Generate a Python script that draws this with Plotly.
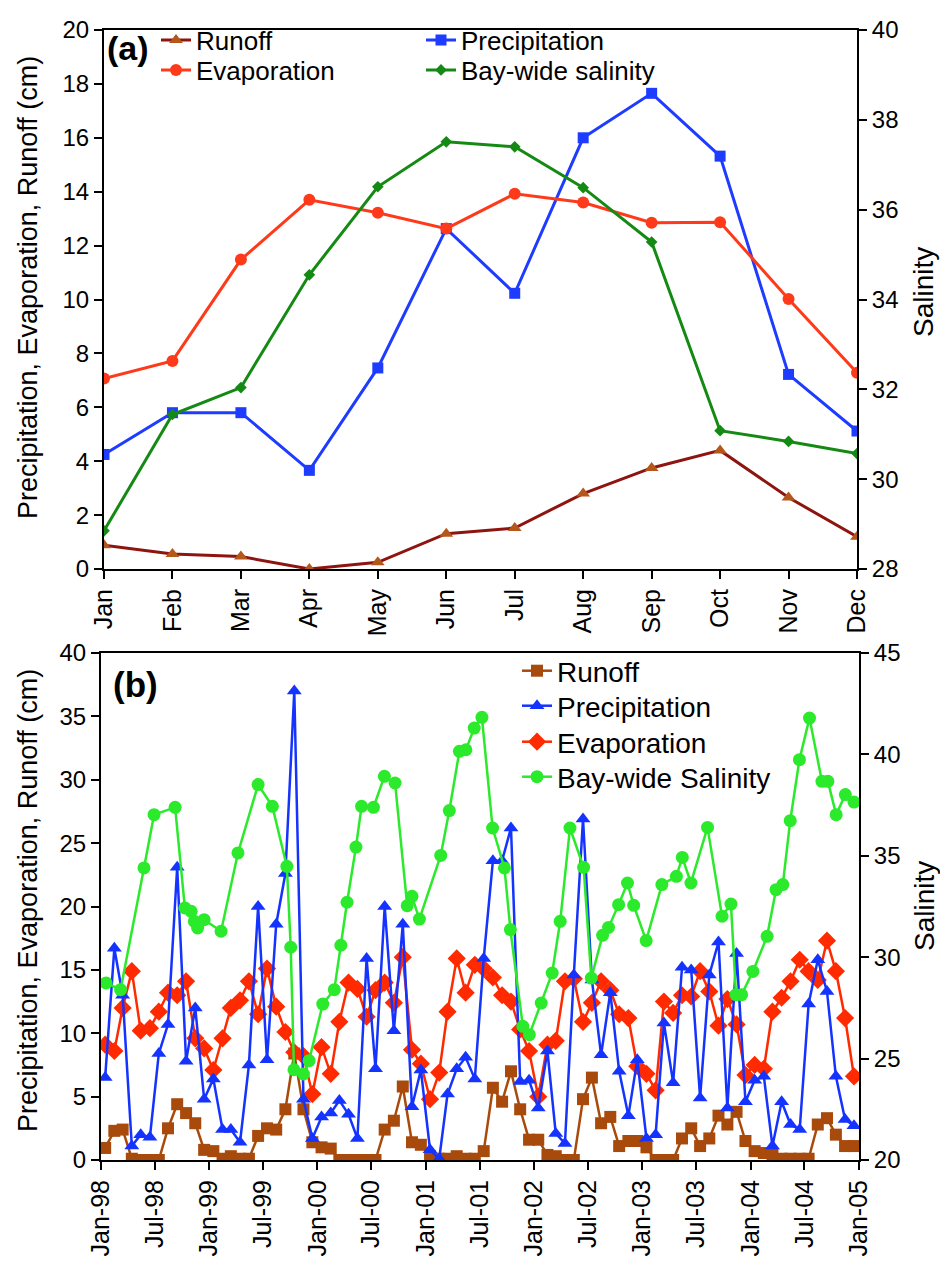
import plotly.graph_objects as go
import pandas as pd

# ---------------- Panel (a): monthly climatology ----------------
months = ["Jan", "Feb", "Mar", "Apr", "May", "Jun", "Jul", "Aug", "Sep", "Oct", "Nov", "Dec"]
a_runoff = [0.88, 0.56, 0.46, 0.0, 0.25, 1.31, 1.52, 2.8, 3.75, 4.4, 2.65, 1.2]
a_evap = [7.07, 7.72, 11.48, 13.7, 13.22, 12.63, 13.92, 13.6, 12.85, 12.87, 10.02, 7.28]
a_precip = [4.25, 5.8, 5.8, 3.66, 7.46, 12.63, 10.23, 16.0, 17.65, 15.32, 7.22, 5.12]
a_salinity = [28.85, 31.44, 32.04, 34.55, 36.51, 37.51, 37.4, 36.49, 35.28, 31.08, 30.84, 30.57]

# ---------------- Panel (b): monthly series 1998-2004 ----------------
b_runoff = [0.95, 2.3, 2.4, 0.1, 0.0, 0.0, 0.0, 2.5, 4.4, 3.7, 2.9, 0.8,
            0.7, 0.1, 0.3, 0.1, 0.1, 1.9, 2.5, 2.4, 4.0, 8.4, 4.0, 1.4,
            1.0, 0.9, 0.0, 0.0, 0.0, 0.0, 0.0, 2.4, 3.1, 5.8, 1.4, 1.2,
            0.3, 0.1, 0.1, 0.3, 0.1, 0.1, 0.7, 5.7, 4.6, 7.0, 4.0, 1.6,
            1.6, 0.4, 0.3, 0.0, 0.0, 4.8, 6.5, 2.9, 3.4, 1.1, 1.5, 1.5,
            1.0, 0.0, 0.0, 0.0, 1.7, 2.5, 1.1, 1.7, 3.5, 2.8, 3.8, 1.5,
            0.7, 0.55, 0.4, 0.1, 0.1, 0.1, 0.1, 2.8, 3.3, 2.0, 1.1, 1.1]
b_precip = [6.5, 16.7, 13.0, 1.1, 2.0, 1.8, 8.4, 10.7, 23.1, 7.8, 12.0, 4.8,
            6.4, 2.4, 2.4, 1.4, 7.5, 20.0, 7.9, 18.6, 22.6, 37.0, 4.8, 1.7,
            3.4, 3.7, 4.7, 3.6, 1.7, 15.9, 7.2, 20.0, 10.2, 18.6, 4.2, 7.1,
            0.8, 0.1, 5.2, 7.2, 8.1, 6.4, 15.9, 23.6, 23.6, 26.2, 6.2, 6.3,
            4.1, 8.6, 2.1, 1.3, 14.6, 26.9, 14.2, 8.3, 13.2, 7.0, 3.5, 7.9,
            1.7, 2.0, 10.8, 6.1, 15.2, 15.0, 4.9, 14.6, 17.2, 4.1, 16.3, 4.6,
            6.3, 6.6, 1.1, 4.6, 2.8, 2.4, 12.3, 15.8, 13.3, 6.6, 3.2, 2.7]
b_evap = [9.1, 8.6, 12.0, 14.9, 10.2, 10.4, 11.7, 13.2, 13.0, 14.1, 9.6, 8.8,
          7.1, 9.6, 12.0, 12.6, 14.1, 11.5, 15.1, 12.1, 10.1, 8.5, 8.2, 5.2,
          8.9, 6.8, 10.9, 14.0, 13.5, 11.3, 13.4, 14.0, 12.4, 16.0, 8.7, 7.6,
          4.8, 6.9, 11.7, 15.9, 13.2, 15.4, 15.1, 14.4, 13.0, 12.5, 10.3, 8.6,
          5.0, 9.1, 9.4, 14.1, 14.3, 10.9, 12.4, 14.1, 13.4, 11.5, 11.2, 7.4,
          6.8, 5.5, 12.5, 11.6, 13.0, 12.9, 14.9, 13.3, 10.6, 12.7, 10.7, 6.7,
          7.5, 7.2, 11.7, 12.8, 14.1, 15.8, 14.9, 14.2, 17.3, 14.9, 11.2, 6.6]
b_months = pd.date_range("1998-01-01", periods=84, freq="MS") + pd.Timedelta(days=14)

sal_dates = ["1998-01-18", "1998-03-08", "1998-05-26", "1998-06-29", "1998-09-08", "1998-10-11",
             "1998-11-01", "1998-11-12", "1998-11-23", "1998-12-15", "1999-02-10", "1999-04-08",
             "1999-06-15", "1999-08-02", "1999-09-20", "1999-10-03", "1999-10-14", "1999-11-15",
             "1999-12-04", "2000-01-19", "2000-02-27", "2000-03-20", "2000-04-10", "2000-05-10",
             "2000-05-29", "2000-07-08", "2000-08-14", "2000-09-19", "2000-10-30", "2000-11-15",
             "2000-12-10", "2001-02-20", "2001-03-21", "2001-04-24", "2001-05-16", "2001-06-13",
             "2001-07-09", "2001-08-14", "2001-09-23", "2001-10-13", "2001-11-24", "2001-12-16",
             "2002-01-25", "2002-03-03", "2002-03-30", "2002-05-02", "2002-06-17", "2002-07-13",
             "2002-08-20", "2002-09-09", "2002-10-13", "2002-11-12", "2002-12-03", "2003-01-14",
             "2003-03-08", "2003-04-26", "2003-05-16", "2003-06-14", "2003-08-09", "2003-09-27",
             "2003-10-27", "2003-11-13", "2003-12-02", "2004-01-09", "2004-02-26", "2004-03-27",
             "2004-04-19", "2004-05-14", "2004-06-14", "2004-07-18", "2004-08-29", "2004-09-18",
             "2004-10-16", "2004-11-16", "2004-12-15"]
sal_values = [28.73, 28.40, 34.40, 37.03, 37.39, 32.43,
              32.26, 31.77, 31.44, 31.85, 31.28, 35.14,
              38.51, 37.44, 34.48, 30.49, 24.45, 24.24,
              24.90, 27.69, 28.40, 30.59, 32.71, 35.43,
              37.44, 37.39, 38.92, 38.59, 32.54, 33.00,
              31.88, 35.02, 37.23, 40.15, 40.23, 41.30,
              41.83, 36.37, 34.40, 31.36, 26.59, 26.18,
              27.74, 29.22, 31.77, 36.37, 34.43, 28.97,
              31.08, 31.47, 32.59, 33.66, 32.56, 30.82,
              33.58, 33.99, 34.92, 33.66, 36.40, 32.02,
              32.62, 28.15, 28.15, 29.30, 31.03, 33.33,
              33.58, 36.73, 39.74, 41.79, 38.67, 38.67,
              37.03, 38.02, 37.65]

b_tickvals = ["1998-01-01", "1998-07-01", "1999-01-01", "1999-07-01", "2000-01-01", "2000-07-01",
              "2001-01-01", "2001-07-01", "2002-01-01", "2002-07-01", "2003-01-01", "2003-07-01",
              "2004-01-01", "2004-07-01", "2005-01-01"]
b_ticktext = ["Jan-98", "Jul-98", "Jan-99", "Jul-99", "Jan-00", "Jul-00", "Jan-01", "Jul-01",
              "Jan-02", "Jul-02", "Jan-03", "Jul-03", "Jan-04", "Jul-04", "Jan-05"]

W, H = 948, 1268
FONT = "Liberation Sans, Arial, sans-serif"

def px_x(x):
    return x / W

def px_y(y):
    return 1 - y / H

fig = go.Figure()
xa = list(range(12))

# Panel (a) traces
fig.add_trace(go.Scatter(x=xa, y=a_runoff, name="Runoff", mode="lines+markers", showlegend=True,
                         line=dict(color="#8E1410", width=3),
                         marker=dict(symbol="triangle-up", size=12, color="#B5561A"),
                         xaxis="x", yaxis="y", legend="legend"))
fig.add_trace(go.Scatter(x=xa, y=a_precip, name="Precipitation", mode="lines+markers", showlegend=True,
                         line=dict(color="#1E3CFF", width=3),
                         marker=dict(symbol="square", size=11, color="#1E3CFF"),
                         xaxis="x", yaxis="y", legend="legend2"))
fig.add_trace(go.Scatter(x=xa, y=a_evap, name="Evaporation", mode="lines+markers", showlegend=True,
                         line=dict(color="#FF3A1A", width=3),
                         marker=dict(symbol="circle", size=12, color="#FF3A1A"),
                         xaxis="x", yaxis="y", legend="legend3"))
fig.add_trace(go.Scatter(x=xa, y=a_salinity, name="Bay-wide salinity", mode="lines+markers", showlegend=True,
                         line=dict(color="#148A14", width=3),
                         marker=dict(symbol="diamond", size=9, color="#148A14"),
                         xaxis="x", yaxis="y2", legend="legend4"))

# Panel (b) traces
fig.add_trace(go.Scatter(x=b_months, y=b_runoff, name="Runoff", mode="lines+markers", showlegend=True,
                         line=dict(color="#A84A0C", width=2.5),
                         marker=dict(symbol="square", size=12, color="#A84A0C"),
                         xaxis="x2", yaxis="y3", legend="legend5"))
fig.add_trace(go.Scatter(x=b_months, y=b_evap, name="Evaporation", mode="lines+markers", showlegend=True,
                         line=dict(color="#FF2A00", width=2.5),
                         marker=dict(symbol="diamond", size=14, color="#FF2A00"),
                         xaxis="x2", yaxis="y3", legend="legend7"))
fig.add_trace(go.Scatter(x=b_months, y=b_precip, name="Precipitation", mode="lines+markers", showlegend=True,
                         line=dict(color="#1433FF", width=2.5),
                         marker=dict(symbol="triangle-up", size=13, color="#1433FF"),
                         xaxis="x2", yaxis="y3", legend="legend6"))
fig.add_trace(go.Scatter(x=pd.to_datetime(sal_dates), y=sal_values, name="Bay-wide Salinity",
                         mode="lines+markers", showlegend=True,
                         line=dict(color="#2BEA2B", width=2.5),
                         marker=dict(symbol="circle", size=13, color="#2BEA2B"),
                         xaxis="x2", yaxis="y4", legend="legend8"))

axis_common = dict(showline=True, linecolor="black", linewidth=2, ticks="outside",
                   ticklen=8, tickwidth=2, tickcolor="black", showgrid=False, zeroline=False,
                   automargin=False, tickfont=dict(family=FONT, size=24, color="black"))

xa_dom = [px_x(96), px_x(849)]
xb_dom = [px_x(93), px_x(851)]
ya_dom = [px_y(561), px_y(22)]
yb_dom = [px_y(1152), px_y(645)]

layout = dict(
    width=W, height=H,
    margin=dict(l=0, r=0, t=0, b=0),
    paper_bgcolor="white", plot_bgcolor="white",
    showlegend=True,
    font=dict(family=FONT, color="black"),
    xaxis=dict(axis_common, domain=xa_dom, anchor="y", range=[0, 11],
               tickvals=xa, ticktext=months, tickangle=-90, mirror=True,
               tickfont=dict(family=FONT, size=25, color="black")),
    yaxis=dict(axis_common, domain=ya_dom, anchor="x", range=[0, 20], dtick=2),
    yaxis2=dict(axis_common, overlaying="y", anchor="x", side="right", range=[28, 40], dtick=2),
    xaxis2=dict(axis_common, domain=xb_dom, anchor="y3", type="date",
                range=["1998-01-01", "2005-01-01"], tickvals=b_tickvals, ticktext=b_ticktext,
                tickangle=-90, mirror=True,
                tickfont=dict(family=FONT, size=25, color="black")),
    yaxis3=dict(axis_common, domain=yb_dom, anchor="x2", range=[0, 40], dtick=5),
    yaxis4=dict(axis_common, overlaying="y3", anchor="x2", side="right", range=[20, 45], dtick=5),
)

def leg(x, y, size):
    return dict(x=px_x(x), y=px_y(y), xanchor="left", yanchor="middle",
                bgcolor="rgba(0,0,0,0)", borderwidth=0,
                font=dict(family=FONT, size=size, color="black"),
                itemwidth=30, tracegroupgap=0)

layout["legend"] = leg(148, 32, 26)
layout["legend2"] = leg(413, 32, 26)
layout["legend3"] = leg(148, 62, 26)
layout["legend4"] = leg(413, 62, 26)
layout["legend5"] = leg(509, 663, 28)
layout["legend6"] = leg(509, 698, 28)
layout["legend7"] = leg(509, 734, 28)
layout["legend8"] = leg(509, 769, 28)

def ann(text, x, y, size, bold=False, angle=0):
    return dict(text=("<b>%s</b>" % text) if bold else text, x=px_x(x), y=px_y(y),
                xref="paper", yref="paper", xanchor="center", yanchor="middle",
                showarrow=False, textangle=angle,
                font=dict(family=FONT, size=size, color="black"))

layout["annotations"] = [
    ann("(a)", 120, 40, 34, bold=True),
    ann("(b)", 127, 676, 35, bold=True),
    ann("Precipitation, Evaporation, Runoff (cm)", 20, 280, 27, angle=-90),
    ann("Precipitation, Evaporation, Runoff (cm)", 20, 893, 27, angle=-90),
    ann("Salinity", 916, 284, 28, angle=-90),
    ann("Salinity", 916, 898, 28, angle=-90),
]

fig.update_layout(**layout)
fig.write_html("out.html")
